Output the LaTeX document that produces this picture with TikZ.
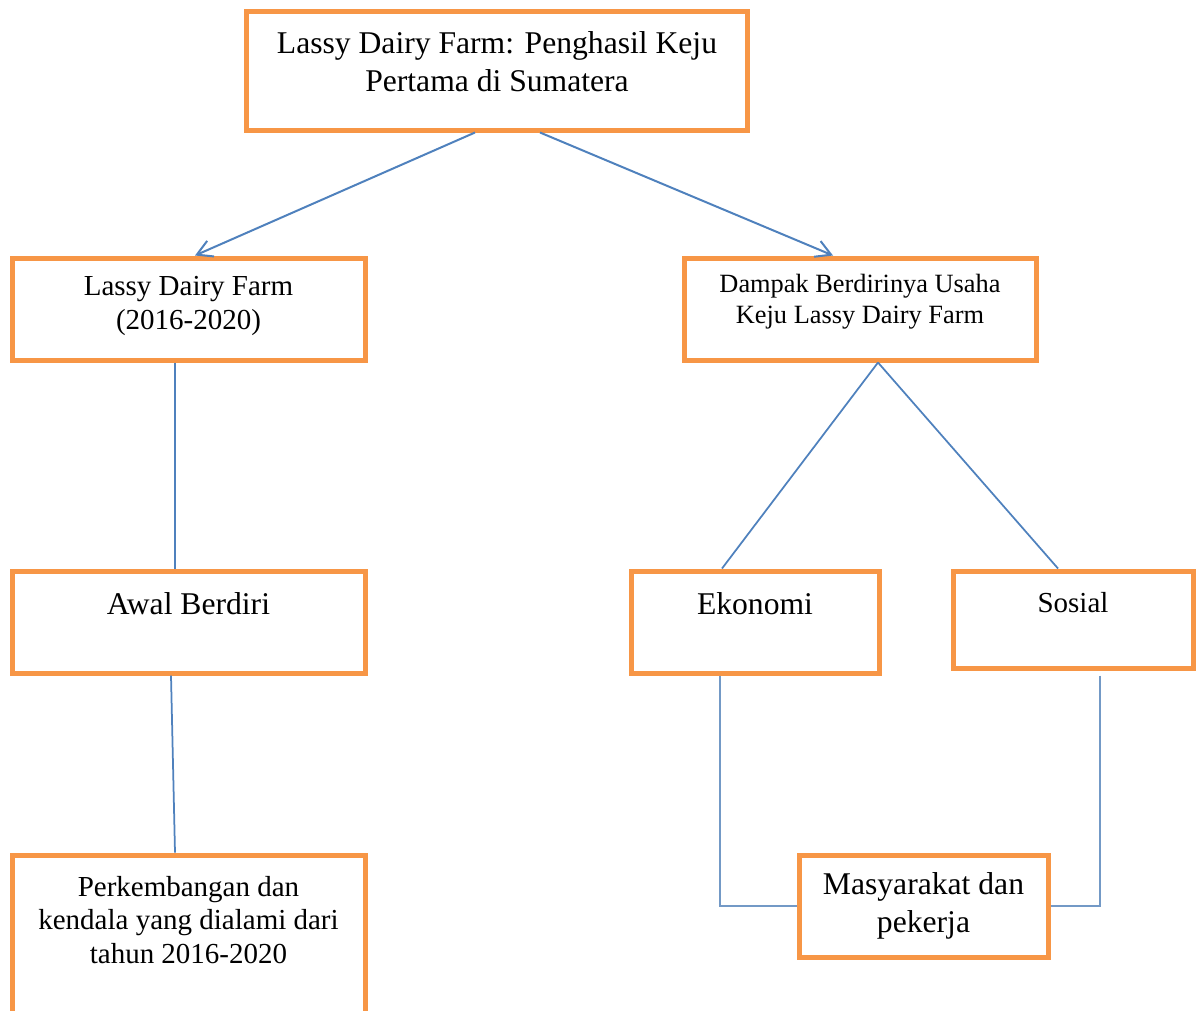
\documentclass[tikz,border=0pt]{standalone}
\usepackage{fontspec}
\setmainfont{Liberation Serif}
\usetikzlibrary{arrows.meta}
\definecolor{oranye}{HTML}{F79646}
\definecolor{biru}{HTML}{4F81BD}
\definecolor{birumuda}{HTML}{7399C6}
\newcommand{\hurufbesar}{\fontsize{18}{21.5}\selectfont}
\newcommand{\hurufsedang}{\fontsize{16.5}{19.3}\selectfont}
\newcommand{\hurufkecil}{\fontsize{15}{17.6}\selectfont}
\begin{document}
\begin{tikzpicture}[
    kotak/.style = {draw = oranye, line width = 0.1cm, rectangle, inner sep = 0},
    teks/.style = {align = center, inner sep = 0},
    panah/.style = {draw = biru, line width = 0.04cm, -{Straight Barb[length = 3mm, width = 3.4mm]}},
    garis/.style = {draw = biru, line width = 0.035cm},
    siku/.style = {draw = birumuda, line width = 0.04cm}
  ]
      \useasboundingbox (0, 0) rectangle (24, -20.2);
      % kotak
      \node [kotak, minimum width = 10.02cm, minimum height = 2.38cm] (judul) at (9.93, -1.41) {};
      \node [kotak, minimum width = 7.06cm, minimum height = 2.04cm] (lassy) at (3.77, -6.18) {};
      \node [kotak, minimum width = 7.04cm, minimum height = 2.04cm] (dampak) at (17.2, -6.18) {};
      \node [kotak, minimum width = 7.06cm, minimum height = 2.04cm] (awal) at (3.77, -12.44) {};
      \node [kotak, minimum width = 4.96cm, minimum height = 2.04cm] (ekonomi) at (15.1, -12.44) {};
      \node [kotak, minimum width = 4.8cm, minimum height = 1.94cm] (sosial) at (21.46, -12.39) {};
      \node [kotak, minimum width = 7.06cm, minimum height = 3.7cm] (kendala) at (3.77, -18.95) {};
      \node [kotak, minimum width = 4.98cm, minimum height = 2.04cm] (masyarakat) at (18.47, -18.12) {};
      % teks
      \node [teks, font = \hurufbesar] (judulT) at (9.94, -1.24) {Lassy Dairy Farm: Penghasil Keju\\Pertama di Sumatera};
      \node [teks, font = \hurufsedang] (lassyT) at (3.77, -6.12) {Lassy Dairy Farm\\(2016-2020)};
      \node [teks, font = \hurufkecil] (dampakT) at (17.2, -6.03) {Dampak Berdirinya Usaha\\Keju Lassy Dairy Farm};
      \node [teks, font = \hurufbesar] (awalT) at (3.77, -12.08) {Awal Berdiri};
      \node [teks, font = \hurufbesar] (ekonomiT) at (15.1, -12.08) {Ekonomi};
      \node [teks, font = \hurufsedang] (sosialT) at (21.46, -12.06) {Sosial};
      \node [teks, font = \hurufsedang] (kendalaT) at (3.77, -18.4) {Perkembangan dan\\kendala yang dialami dari\\tahun 2016-2020};
      \node [teks, font = \hurufbesar] (masyarakatT) at (18.47, -18.12) {Masyarakat dan\\pekerja};
      % penghubung
      \draw [panah] ([xshift = -0.43cm] judul.south) -- ([xshift = 0.13cm] lassy.north);
      \draw [panah] ([xshift = 0.87cm] judul.south) -- ([xshift = -0.54cm] dampak.north);
      \draw [garis] ([xshift = -0.27cm] lassy.south) -- ([xshift = -0.27cm] awal.north);
      \draw [garis] ([xshift = -0.35cm] awal.south) -- ([xshift = -0.27cm] kendala.north);
      \draw [garis] ([xshift = 0.36cm] dampak.south) -- ([xshift = -0.66cm] ekonomi.north);
      \draw [garis] ([xshift = 0.36cm] dampak.south) -- ([xshift = -0.3cm] sosial.north);
      \draw [siku] ([xshift = -0.7cm] ekonomi.south) |- (masyarakat.west);
      \draw [siku] ([xshift = 0.54cm, yshift = -0.1cm] sosial.south) |- (masyarakat.east);
    \end{tikzpicture}
\end{document}
